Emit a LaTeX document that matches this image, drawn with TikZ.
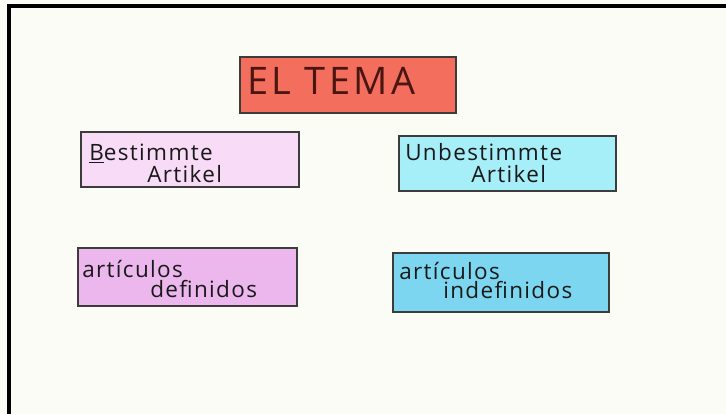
\documentclass[tikz,border=0pt]{standalone}
\usepackage{fontspec}
\setmainfont{Open Sans}
\usepackage{tikz}
\usetikzlibrary{shadows}

\definecolor{paper}{HTML}{FBFCF6}
\definecolor{temared}{HTML}{F46E5E}
\definecolor{temaink}{HTML}{4A1612}
\definecolor{pinklight}{HTML}{F8DBF6}
\definecolor{pinkdark}{HTML}{ECB7EC}
\definecolor{cyanlight}{HTML}{A6EEF8}
\definecolor{cyandark}{HTML}{7DD6F0}
\definecolor{boxline}{HTML}{3C3C3C}

\begin{document}
\begin{tikzpicture}[x=0.025cm, y=-0.025cm,
    card/.style={draw=boxline, line width=1.3pt,
        drop shadow={shadow xshift=0.6pt, shadow yshift=-0.9pt, opacity=0.35}},
    word/.style={inner sep=0pt, anchor=base west, text=black!90,
        font=\addfontfeatures{LetterSpace=6}\fontsize{16}{19}\selectfont}]
    % Paper and frame
    \useasboundingbox (0,0) rectangle (726,414);
    \fill[paper] (0,0) rectangle (726,414);
    \draw[line width=2.4pt] (9,414) -- (9,6) -- (726,6);

    % Cards
    \draw[card, fill=temared] (240,57) rectangle (456,113);
    \draw[card, fill=pinklight] (81,132) rectangle (299,187);
    \draw[card, fill=cyanlight] (399,136) rectangle (616,191);
    \draw[card, fill=pinkdark] (78,248) rectangle (297,306);
    \draw[card, fill=cyandark] (393,253) rectangle (609,312);

    % Title
    \node[word, text=temaink,
        font=\addfontfeatures{LetterSpace=9}\fontsize{27}{30}\selectfont]
        (tema) at (247,95) {EL TEMA};

    % German labels
    \node[word] (best) at (89,160) {\underline{B}estimmte};
    \node[word] (bestart) at (147,182) {Artikel};
    \node[word] (unbest) at (405,160) {Unbestimmte};
    \node[word] (unbestart) at (471,182) {Artikel};

    % Spanish labels
    \node[word] (defart) at (82,277) {artículos};
    \node[word] (def) at (150,297) {definidos};
    \node[word] (indefart) at (399,279) {artículos};
    \node[word] (indef) at (443,298) {indefinidos};
\end{tikzpicture}
\end{document}
